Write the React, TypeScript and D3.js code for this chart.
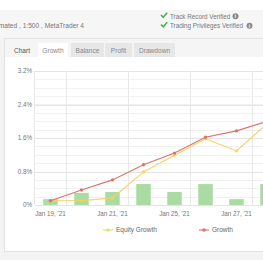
import React from "react";
import * as d3 from "d3";

const dates = ["Jan 19, '21", "Jan 20, '21", "Jan 21, '21", "Jan 22, '21", "Jan 25, '21", "Jan 26, '21", "Jan 27, '21", "Jan 28, '21"];
const growth = [0.1, 0.36, 0.6, 0.96, 1.24, 1.62, 1.77, 2.0];
const equity = [0.1, 0.1, 0.17, 0.79, 1.19, 1.58, 1.29, 1.95];
const daily = [0.14, 0.29, 0.31, 0.5, 0.31, 0.5, 0.14, 0.5];
const yTicks = [0, 0.8, 1.6, 2.4, 3.2];
const tabs = ["Chart", "Growth", "Balance", "Profit", "Drawdown"];

const W = 263, H = 260;
const FONT = "'Liberation Sans', Arial, sans-serif";
const RED = "#d9736f";
const YEL = "#f4d35e";
const GREEN = "#a9dba3";

export default function App() {
  const x = d3.scaleBand<string>().domain(dates).range([35, 35 + 31 * dates.length]).paddingInner(0).paddingOuter(0);
  const y = d3.scaleLinear().domain([0, 3.2]).range([205, 71]);
  const cx = (d: string) => (x(d) as number) + x.bandwidth() / 2;
  const minor = d3.range(0, 3.2001, 0.2);
  const lineG = d3.line<number>().x((_, i) => cx(dates[i])).y((v) => y(v));
  const barW = 14.5;

  const tabX = [8, 38, 71, 105, 134];
  const tabW = [28, 30, 33, 27, 41];

  return (
    <svg width={W} height={H} style={{ position: "absolute", left: 0, top: 0 }} fontFamily={FONT}>
      <rect x={0} y={0} width={W} height={H} fill="#ffffff" />
      <rect x={0} y={10} width={W} height={28} fill="#f6f6f6" />
      <text x={84} y={27.5} fontSize={6.6} fill="#777" textAnchor="end">Automated , 1:500 , MetaTrader 4</text>
      {["Track Record Verified", "Trading Privileges Verified"].map((t, i) => (
        <g key={t}>
          <path d={`M161,${15 + i * 9.5} l2.2,2.3 l4,-4.6`} stroke="#4caf50" strokeWidth={1.6} fill="none" />
          <text x={170} y={18.5 + i * 9.5} fontSize={6.3} fill="#777">{t}</text>
          <circle cx={i === 0 ? 235.5 : 249.5} cy={16.3 + i * 9.5} r={3} fill="#8a8a8a" />
          <text x={i === 0 ? 235.5 : 249.5} y={18.3 + i * 9.5} fontSize={5} fill="#fff" textAnchor="middle" fontWeight="bold">i</text>
        </g>
      ))}
      <rect x={0} y={38} width={W} height={H - 38} fill="#f3f3f3" />
      <rect x={4.5} y={38.5} width={W} height={213} fill="#ffffff" stroke="#e2e2e2" />
      <rect x={5} y={39} width={W} height={18} fill="#f5f5f5" />
      {tabs.map((t, i) => (
        <g key={t}>
          {i > 0 && <rect x={tabX[i]} y={43} width={tabW[i]} height={14} fill={i === 1 ? "#ffffff" : "#e7e7e7"} />}
          <text x={tabX[i] + tabW[i] / 2} y={52.5} fontSize={6.6} fill={i === 0 ? "#555" : "#888"} textAnchor="middle">{t}</text>
        </g>
      ))}
      {minor.map((v) => (
        <line key={"m" + v} x1={35} x2={W} y1={Math.round(y(v)) + 0.5} y2={Math.round(y(v)) + 0.5} stroke="#f1f1f1" />
      ))}
      {yTicks.map((v) => (
        <line key={"g" + v} x1={35} x2={W} y1={Math.round(y(v)) + 0.5} y2={Math.round(y(v)) + 0.5} stroke="#e4e4e4" />
      ))}
      {dates.map((d, i) => i % 2 === 0 ? (
        <line key={"v" + d} x1={Math.round((x(d) as number) + x.bandwidth()) + 0.5} x2={Math.round((x(d) as number) + x.bandwidth()) + 0.5} y1={71} y2={205} stroke="#e8e8e8" />
      ) : null)}
      <line x1={34.5} x2={34.5} y1={71} y2={205} stroke="#e8e8e8" />
      {yTicks.map((v) => (
        <text key={"t" + v} x={32} y={y(v) + 2.2} fontSize={6.3} fill="#777" textAnchor="end">{v === 0 ? "0%" : v.toFixed(1) + "%"}</text>
      ))}
      {dates.map((d, i) => i % 2 === 0 ? (
        <text key={"xl" + d} x={cx(d)} y={215.5} fontSize={6.3} fill="#777" textAnchor="middle">{d}</text>
      ) : null)}
      {daily.map((v, i) => (
        <rect key={"b" + i} x={cx(dates[i]) - barW / 2} y={y(v)} width={barW} height={y(0) - y(v)} fill={GREEN} />
      ))}
      <path d={lineG(equity) || ""} fill="none" stroke={YEL} strokeWidth={1.1} />
      {equity.map((v, i) => (
        <circle key={"e" + i} cx={cx(dates[i])} cy={y(v)} r={1.6} fill={YEL} />
      ))}
      <path d={lineG(growth) || ""} fill="none" stroke={RED} strokeWidth={1.1} />
      {growth.map((v, i) => (
        <circle key={"r" + i} cx={cx(dates[i])} cy={y(v)} r={1.7} fill={RED} />
      ))}
      <line x1={103} x2={113} y1={230} y2={230} stroke={YEL} strokeWidth={1.1} />
      <circle cx={108} cy={230} r={1.6} fill={YEL} />
      <text x={116} y={232.3} fontSize={6.5} fill="#666">Equity Growth</text>
      <line x1={199} x2={209} y1={230} y2={230} stroke={RED} strokeWidth={1.1} />
      <circle cx={204} cy={230} r={1.7} fill={RED} />
      <text x={212} y={232.3} fontSize={6.5} fill="#666">Growth</text>
    </svg>
  );
}
